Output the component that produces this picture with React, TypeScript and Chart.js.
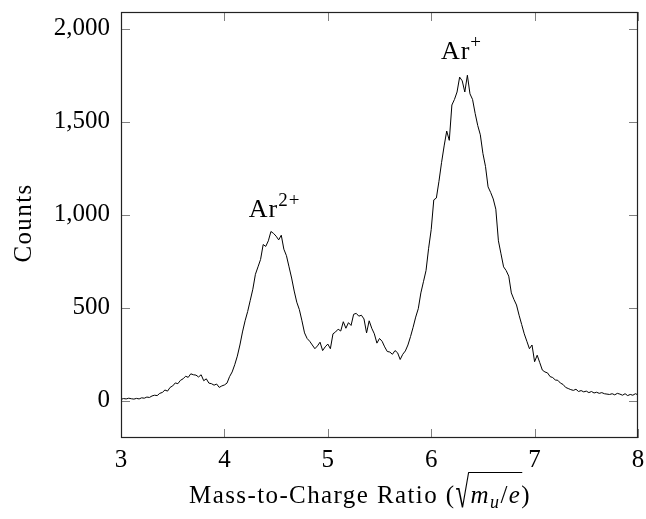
import React, { useEffect, useRef } from 'react';
import { Chart, registerables } from 'chart.js';

Chart.register(...registerables);

// Sampling grid for the spectrum (mass-to-charge ratio)
const X_START = 3.0;
const X_STEP = 0.025;

// Counts, one per grid step (3.000 .. 8.000)
const counts: number[] = [
  8, 12, 10, 14, 11, 9, 13, 10, 16, 14,
  20, 18, 26, 30, 28, 40, 45, 58, 52, 72,
  80, 96, 92, 110, 118, 132, 126, 145, 140, 138,
  128, 140, 108, 118, 95, 92, 84, 90, 72, 80,
  85, 95, 130, 155, 194, 240, 300, 370, 430, 480,
  540, 600, 680, 720, 760, 840, 830, 860, 910, 900,
  885, 865, 890, 815, 780, 720, 660, 590, 530, 490,
  430, 365, 335, 320, 300, 280, 295, 315, 270, 290,
  305, 280, 360, 370, 385, 375, 425, 390, 420, 405,
  465, 470, 455, 460, 440, 365, 430, 390, 360, 310,
  335, 320, 290, 265, 262, 250, 270, 258, 222, 250,
  268, 300, 345, 395, 450, 495, 580, 640, 700, 820,
  920, 1080, 1090, 1180, 1280, 1370, 1450, 1400, 1590, 1620,
  1660, 1740, 1720, 1660, 1750, 1650, 1620, 1545, 1480, 1430,
  1330, 1260, 1150, 1120, 1085, 1030, 860, 790, 720, 700,
  670, 580, 545, 515, 460, 410, 360, 320, 280, 300,
  210, 245, 205, 165, 155, 150, 130, 125, 112, 110,
  95, 88, 72, 66, 60, 56, 62, 50, 55, 48,
  52, 44, 50, 42, 46, 40, 44, 38, 36, 34,
  38, 32, 40, 36, 30, 38, 28, 34, 30, 38,
  32,
];

const xTicks = [3, 4, 5, 6, 7, 8];
const yTicks = [0, 500, 1000, 1500, 2000];
const X_MIN = 3;
const X_MAX = 8;
const Y_MIN = -200;
const Y_MAX = 2090;

// Peak labels: base text, superscript, x (center), y (baseline)
const peakLabels: { base: string; sup: string; x: number; y: number }[] = [
  { base: 'Ar', sup: '2+', x: 4.485, y: 990 },
  { base: 'Ar', sup: '+', x: 6.293, y: 1840 },
];

const FONT = "'Liberation Serif', 'DejaVu Serif', serif";

const decorPlugin = {
  id: 'decor',
  afterDraw(chart: any) {
    const { ctx, chartArea, scales } = chart;
    const { left, right, top, bottom } = chartArea;
    const xs = scales.x;
    const ys = scales.y;
    ctx.save();
    // inward ticks on all four sides
    ctx.strokeStyle = '#808080';
    ctx.lineWidth = 1;
    const TL = 9;
    ctx.beginPath();
    xTicks.forEach((v) => {
      const px = Math.round(xs.getPixelForValue(v)) + 0.5;
      ctx.moveTo(px, bottom);
      ctx.lineTo(px, bottom - TL);
      ctx.moveTo(px, top);
      ctx.lineTo(px, top + TL);
    });
    yTicks.forEach((v) => {
      const py = Math.round(ys.getPixelForValue(v)) + 0.5;
      ctx.moveTo(left, py);
      ctx.lineTo(left + TL, py);
      ctx.moveTo(right, py);
      ctx.lineTo(right - TL, py);
    });
    ctx.stroke();
    // frame
    ctx.strokeStyle = '#222';
    ctx.lineWidth = 1.2;
    ctx.strokeRect(Math.round(left) + 0.5, Math.round(top) + 0.5, Math.round(right - left) - 1, Math.round(bottom - top) - 1);

    // peak labels
    ctx.fillStyle = '#000';
    ctx.textBaseline = 'alphabetic';
    ctx.textAlign = 'left';
    peakLabels.forEach((p) => {
      (ctx as any).letterSpacing = '1px';
      ctx.font = `26px ${FONT}`;
      const wb = ctx.measureText(p.base).width;
      ctx.font = `19px ${FONT}`;
      const ws = ctx.measureText(p.sup).width;
      const cx = xs.getPixelForValue(p.x);
      const by = ys.getPixelForValue(p.y);
      const x0 = cx - (wb + ws) / 2;
      ctx.font = `26px ${FONT}`;
      ctx.fillText(p.base, x0, by);
      ctx.font = `19px ${FONT}`;
      ctx.fillText(p.sup, x0 + wb, by - 11);
    });

    // x-axis title with radical
    (ctx as any).letterSpacing = '1.4px';
    const cx = 360;
    const base = 503;
    const parts: { t: string; f: string; dy: number }[] = [
      { t: 'Mass-to-Charge Ratio (', f: `25px ${FONT}`, dy: 0 },
      { t: '\u221A', f: `25px ${FONT}`, dy: 0 },
      { t: 'm', f: `italic 25px ${FONT}`, dy: 0 },
      { t: 'u', f: `italic 18px ${FONT}`, dy: 5 },
      { t: '/', f: `25px ${FONT}`, dy: 0 },
      { t: 'e', f: `italic 25px ${FONT}`, dy: 0 },
      { t: ')', f: `25px ${FONT}`, dy: 0 },
    ];
    const widths = parts.map((p) => {
      ctx.font = p.f;
      return ctx.measureText(p.t).width;
    });
    const total = widths.reduce((a, b) => a + b, 0);
    let xx = cx - total / 2;
    let barStart = 0;
    let barEnd = 0;
    const radTop = 472;
    const radBottom = 509;
    parts.forEach((p, i) => {
      ctx.font = p.f;
      if (i === 1) {
        const m = ctx.measureText(p.t);
        const asc = m.actualBoundingBoxAscent;
        const desc = m.actualBoundingBoxDescent;
        const h = asc + desc;
        const sy = (radBottom - radTop) / h;
        ctx.save();
        ctx.translate(xx, radTop + asc * sy);
        ctx.scale(1, sy);
        ctx.fillText(p.t, 0, 0);
        ctx.restore();
        barStart = xx + m.actualBoundingBoxRight - 1;
      } else {
        ctx.fillText(p.t, xx, base + p.dy);
      }
      if (i === 6) barEnd = xx + 1;
      xx += widths[i];
    });
    ctx.strokeStyle = '#000';
    ctx.lineWidth = 1.1;
    ctx.beginPath();
    ctx.moveTo(barStart, radTop + 0.5);
    ctx.lineTo(barEnd, radTop + 0.5);
    ctx.stroke();

    // y-axis title
    ctx.save();
    (ctx as any).letterSpacing = '1.4px';
    ctx.translate(31, 223);
    ctx.rotate(-Math.PI / 2);
    ctx.font = `25px ${FONT}`;
    ctx.textAlign = 'center';
    ctx.fillText('Counts', 0, 0);
    ctx.restore();

    (ctx as any).letterSpacing = '0px';
    ctx.restore();
  },
};

export default function App() {
  const canvasRef = useRef<HTMLCanvasElement | null>(null);

  useEffect(() => {
    if (!canvasRef.current) return;
    const points = counts.map((c, i) => ({ x: X_START + i * X_STEP, y: c }));
    const chart = new Chart(canvasRef.current, {
      type: 'line',
      data: {
        datasets: [
          {
            data: points,
            borderColor: '#000',
            borderWidth: 1,
            pointRadius: 0,
            tension: 0,
            fill: false,
          },
        ],
      },
      options: {
        animation: false,
        responsive: true,
        maintainAspectRatio: false,
        parsing: false as any,
        layout: { padding: { top: 12, right: 8, left: 0, bottom: 0 } },
        plugins: {
          legend: { display: false },
          tooltip: { enabled: false },
        },
        scales: {
          x: {
            type: 'linear',
            min: X_MIN,
            max: X_MAX,
            grid: { display: false, drawTicks: false },
            border: { display: false },
            afterBuildTicks: (scale: any) => {
              scale.ticks = xTicks.map((v) => ({ value: v }));
            },
            afterFit: (scale: any) => {
              scale.height = 81;
              scale.paddingLeft = 0;
              scale.paddingRight = 0;
              scale.paddingTop = 0;
              scale.paddingBottom = 0;
            },
            ticks: {
              color: '#000',
              padding: 7,
              maxRotation: 0,
              autoSkip: false,
              font: { family: FONT, size: 25 },
              callback: (v: any) => String(v),
            },
          },
          y: {
            type: 'linear',
            min: Y_MIN,
            max: Y_MAX,
            grid: { display: false, drawTicks: false },
            border: { display: false },
            afterBuildTicks: (scale: any) => {
              scale.ticks = yTicks.map((v) => ({ value: v }));
            },
            afterFit: (scale: any) => {
              scale.width = 121;
              scale.paddingLeft = 0;
              scale.paddingRight = 0;
              scale.paddingTop = 0;
              scale.paddingBottom = 0;
            },
            ticks: {
              color: '#000',
              padding: 11,
              autoSkip: false,
              font: { family: FONT, size: 25 },
              callback: (v: any) => Number(v).toLocaleString('en-US'),
            },
          },
        },
      },
      plugins: [decorPlugin],
    });
    return () => chart.destroy();
  }, []);

  return (
    <div style={{ position: 'fixed', left: 0, top: 0, width: 646, height: 519, background: '#fff' }}>
      <canvas ref={canvasRef} />
    </div>
  );
}
